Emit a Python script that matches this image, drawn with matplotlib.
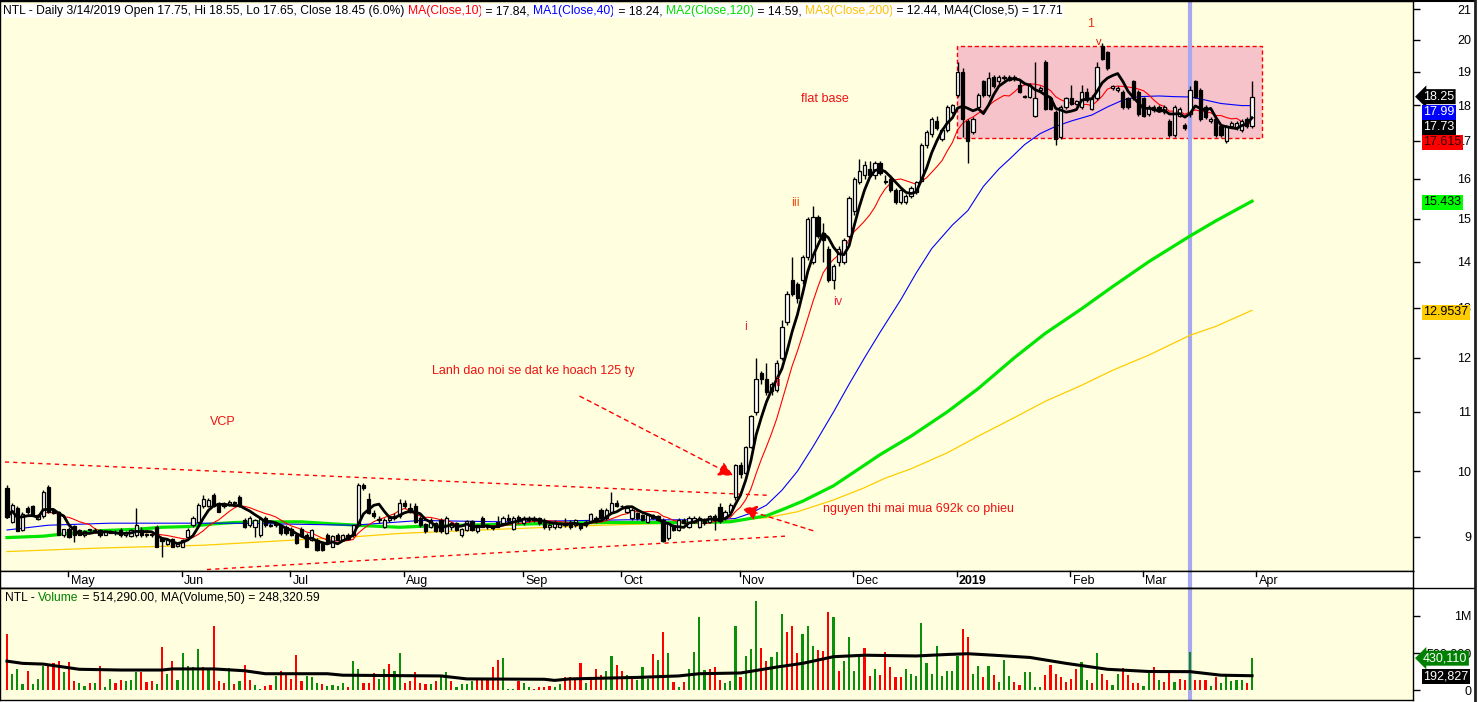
import numpy as np
import pandas as pd
import matplotlib
matplotlib.use('Agg')
import matplotlib.pyplot as plt
from matplotlib.patches import Rectangle
from matplotlib.lines import Line2D

plt.rcParams['font.family'] = ['Liberation Sans', 'DejaVu Sans']

# ---------------- data ----------------
opens = [
 9.74, 9.22, 9.42, 9.10, 9.42, 9.45, 9.26, 9.30, 9.75, 9.40,
 9.36, 9.03, 9.12, 9.16, 9.10, 9.02, 9.10, 9.10, 9.10, 9.03,
 9.08, 9.06, 9.10, 9.03, 9.01, 9.02, 9.10, 9.03, 9.04, 9.15,
 8.98, 8.90, 8.97, 8.87, 8.86, 9.00, 9.17, 9.22, 9.45, 9.45,
 9.62, 9.50, 9.45, 9.47, 9.50, 9.60, 9.24, 9.17, 9.14, 9.02,
 9.27, 9.17, 9.18, 9.17, 9.15, 9.12, 9.03, 9.12, 9.03, 8.96,
 8.96, 8.90, 9.03, 8.86, 9.03, 8.96, 9.03, 9.02, 9.17, 9.78,
 9.57, 9.35, 9.24, 9.15, 9.25, 9.28, 9.30, 9.50, 9.42, 9.45,
 9.28, 9.19, 9.15, 9.20, 9.25, 9.06, 9.14, 9.20, 9.03, 9.10,
 9.23, 9.08, 9.28, 9.15, 9.15, 9.22, 9.20, 9.28, 9.11, 9.29,
 9.21, 9.24, 9.27, 9.27, 9.25, 9.15, 9.14, 9.15, 9.20, 9.22,
 9.17, 9.17, 9.17, 9.23, 9.27, 9.40, 9.27, 9.37, 9.50, 9.45,
 9.37, 9.27, 9.35, 9.32, 9.22, 9.32, 9.30, 9.25, 8.98, 9.17,
 9.10, 9.25, 9.15, 9.22, 9.15, 9.25, 9.22, 9.30, 9.44, 9.27,
 9.37, 9.60, 10.10, 9.97, 10.40, 11.00, 11.70, 11.60, 11.37, 11.40,
 12.00, 12.70, 13.60, 13.50, 13.60, 14.10, 14.00, 15.05, 14.65, 14.30,
 13.60, 14.00, 14.00, 14.60, 15.20, 15.90, 16.10, 16.25, 16.10, 16.40,
 15.95, 16.00, 15.70, 15.40, 15.40, 15.55, 15.65, 15.95, 16.90, 17.20,
 17.55, 17.05, 17.30, 17.80, 18.30, 19.00, 17.55, 17.25, 17.95, 18.70,
 18.30, 18.85, 18.70, 18.80, 18.75, 18.80, 18.60, 18.25, 18.25, 17.70,
 18.45, 19.30, 18.20, 17.80, 17.10, 17.95, 18.20, 18.05, 17.95, 18.40,
 17.90, 18.20, 19.80, 19.60, 18.50, 18.45, 18.40, 18.20, 18.70, 18.40,
 18.20, 17.75, 17.95, 17.95, 17.80, 17.55, 17.15, 17.70, 17.45, 17.75,
 18.70, 18.45, 17.95, 17.55, 17.60, 17.40, 17.00, 17.40, 17.35, 17.30,
 17.60, 17.40]

highs = [
 9.78, 9.50, 9.45, 9.36, 9.45, 9.47, 9.34, 9.70, 9.78, 9.42,
 9.38, 9.12, 9.15, 9.18, 9.12, 9.10, 9.12, 9.13, 9.12, 9.10,
 9.10, 9.10, 9.13, 9.08, 9.11, 9.43, 9.15, 9.06, 9.06, 9.17,
 9.00, 8.97, 8.99, 8.92, 8.97, 9.13, 9.30, 9.50, 9.62, 9.58,
 9.65, 9.52, 9.52, 9.55, 9.54, 9.62, 9.27, 9.30, 9.26, 9.27,
 9.30, 9.20, 9.20, 9.19, 9.17, 9.14, 9.05, 9.14, 9.05, 9.12,
 8.98, 8.92, 9.05, 9.02, 9.05, 9.04, 9.05, 9.18, 9.82, 9.82,
 9.66, 9.40, 9.30, 9.27, 9.32, 9.35, 9.56, 9.55, 9.50, 9.50,
 9.30, 9.21, 9.27, 9.22, 9.27, 9.30, 9.22, 9.22, 9.13, 9.24,
 9.25, 9.18, 9.30, 9.18, 9.17, 9.30, 9.30, 9.33, 9.30, 9.32,
 9.30, 9.30, 9.30, 9.29, 9.27, 9.20, 9.24, 9.22, 9.28, 9.25,
 9.26, 9.20, 9.25, 9.35, 9.30, 9.42, 9.42, 9.67, 9.55, 9.48,
 9.44, 9.42, 9.37, 9.34, 9.34, 9.34, 9.32, 9.27, 9.22, 9.19,
 9.27, 9.27, 9.30, 9.30, 9.30, 9.28, 9.32, 9.33, 9.50, 9.40,
 9.50, 10.12, 10.15, 10.42, 10.95, 12.00, 11.75, 11.90, 11.55, 11.95,
 12.74, 13.35, 14.10, 13.55, 14.15, 15.05, 15.30, 15.10, 14.90, 14.35,
 13.95, 14.35, 14.55, 15.55, 16.05, 16.50, 16.45, 16.45, 16.45, 16.45,
 16.10, 16.10, 15.75, 15.75, 15.60, 15.80, 15.95, 16.95, 17.30, 17.65,
 17.70, 17.35, 18.00, 18.05, 19.30, 19.10, 17.60, 17.65, 18.35, 18.75,
 19.00, 18.90, 18.90, 18.90, 18.90, 18.90, 18.70, 18.30, 18.65, 19.30,
 18.55, 19.35, 18.25, 17.85, 18.00, 18.25, 18.60, 18.15, 18.60, 18.50,
 18.30, 19.30, 19.90, 19.65, 18.60, 18.55, 18.45, 18.25, 18.75, 18.45,
 18.25, 18.00, 18.00, 18.00, 18.00, 17.60, 18.00, 17.95, 17.50, 18.55,
 18.75, 18.50, 18.00, 17.65, 17.65, 17.45, 17.45, 17.55, 17.55, 17.60,
 17.65, 18.70]

lows = [
 9.27, 9.20, 9.08, 9.08, 9.33, 9.30, 9.24, 9.28, 9.35, 9.33,
 9.02, 9.00, 8.98, 8.93, 9.02, 9.00, 9.07, 9.06, 9.00, 9.02,
 9.05, 9.03, 9.00, 9.00, 9.00, 9.00, 9.00, 9.00, 9.00, 8.85,
 8.72, 8.88, 8.85, 8.85, 8.85, 8.98, 9.15, 9.20, 9.43, 9.44,
 9.44, 9.36, 9.42, 9.45, 9.46, 9.44, 9.13, 9.15, 9.00, 9.00,
 9.15, 9.14, 9.15, 9.03, 9.03, 9.01, 8.90, 9.00, 8.85, 8.94,
 8.80, 8.80, 8.90, 8.85, 8.95, 8.95, 8.95, 9.00, 9.15, 9.70,
 9.33, 9.28, 9.20, 9.13, 9.22, 9.25, 9.28, 9.42, 9.35, 9.20,
 9.15, 9.06, 9.13, 9.07, 9.06, 9.04, 9.10, 9.08, 9.00, 9.08,
 9.08, 9.06, 9.14, 9.12, 9.10, 9.14, 9.18, 9.22, 9.10, 9.20,
 9.18, 9.22, 9.22, 9.18, 9.12, 9.10, 9.12, 9.13, 9.15, 9.12,
 9.15, 9.10, 9.15, 9.20, 9.20, 9.26, 9.25, 9.35, 9.44, 9.42,
 9.35, 9.25, 9.25, 9.23, 9.20, 9.26, 9.23, 8.92, 8.96, 9.08,
 9.08, 9.19, 9.13, 9.20, 9.13, 9.18, 9.20, 9.10, 9.20, 9.25,
 9.35, 9.55, 9.90, 9.95, 10.38, 10.95, 11.50, 11.30, 11.30, 11.35,
 11.95, 12.65, 13.25, 13.10, 13.50, 14.05, 13.95, 14.55, 14.00, 13.55,
 13.40, 13.90, 13.95, 14.55, 15.10, 15.85, 16.00, 16.05, 16.00, 16.10,
 15.85, 15.65, 15.35, 15.35, 15.35, 15.50, 15.60, 15.90, 16.80, 17.10,
 17.30, 17.00, 17.25, 17.75, 18.25, 17.10, 16.40, 17.20, 17.90, 18.25,
 18.25, 18.50, 18.60, 18.75, 18.70, 18.70, 18.35, 18.20, 18.20, 17.65,
 18.40, 17.85, 17.85, 16.90, 17.05, 17.90, 18.00, 18.00, 17.90, 18.10,
 17.85, 18.15, 19.35, 19.05, 18.45, 18.40, 17.90, 17.90, 18.15, 17.70,
 17.65, 17.70, 17.80, 17.80, 17.75, 17.10, 17.10, 17.65, 17.30, 17.65,
 18.20, 17.55, 17.60, 17.50, 17.10, 17.10, 16.95, 17.35, 17.30, 17.25,
 17.35, 17.35]

closes = [
 9.29, 9.47, 9.09, 9.33, 9.37, 9.31, 9.32, 9.67, 9.37, 9.35,
 9.03, 9.11, 9.00, 9.03, 9.03, 9.09, 9.10, 9.08, 9.02, 9.08,
 9.06, 9.05, 9.02, 9.05, 9.10, 9.18, 9.02, 9.04, 9.03, 8.86,
 8.94, 8.96, 8.86, 8.90, 8.96, 9.10, 9.27, 9.47, 9.57, 9.55,
 9.45, 9.37, 9.48, 9.52, 9.50, 9.45, 9.15, 9.28, 9.25, 9.26,
 9.17, 9.16, 9.19, 9.06, 9.05, 9.03, 8.91, 9.01, 8.86, 9.10,
 8.81, 8.81, 8.91, 9.01, 8.96, 9.03, 8.97, 9.17, 9.78, 9.74,
 9.35, 9.30, 9.26, 9.25, 9.28, 9.30, 9.50, 9.45, 9.36, 9.22,
 9.17, 9.08, 9.25, 9.08, 9.08, 9.28, 9.21, 9.10, 9.12, 9.23,
 9.10, 9.17, 9.15, 9.16, 9.13, 9.15, 9.28, 9.25, 9.27, 9.23,
 9.27, 9.28, 9.25, 9.20, 9.14, 9.18, 9.22, 9.20, 9.18, 9.14,
 9.25, 9.13, 9.22, 9.33, 9.23, 9.27, 9.40, 9.50, 9.45, 9.46,
 9.42, 9.40, 9.27, 9.25, 9.32, 9.27, 9.25, 8.94, 9.20, 9.10,
 9.25, 9.20, 9.27, 9.27, 9.27, 9.20, 9.30, 9.25, 9.23, 9.37,
 9.47, 10.10, 9.96, 10.40, 10.93, 11.60, 11.60, 11.35, 11.50, 11.90,
 12.60, 13.30, 13.30, 13.20, 14.10, 15.00, 15.05, 14.60, 14.50, 13.60,
 13.90, 14.30, 14.50, 15.50, 16.00, 16.20, 16.35, 16.10, 16.40, 16.15,
 15.90, 15.70, 15.40, 15.70, 15.55, 15.75, 15.90, 16.90, 17.25, 17.60,
 17.35, 17.30, 17.95, 18.00, 19.00, 17.60, 17.00, 17.60, 18.30, 18.30,
 18.80, 18.55, 18.85, 18.85, 18.85, 18.80, 18.40, 18.28, 18.60, 18.20,
 18.50, 17.90, 17.90, 17.05, 17.95, 18.20, 18.05, 18.12, 18.40, 18.15,
 18.20, 19.15, 19.40, 19.10, 18.55, 18.50, 17.95, 17.95, 18.20, 17.75,
 17.70, 17.95, 17.85, 17.85, 17.95, 17.15, 17.95, 17.90, 17.35, 18.45,
 18.25, 17.60, 17.65, 17.60, 17.15, 17.15, 17.40, 17.50, 17.50, 17.55,
 17.40, 18.25]

# volume in millions of shares, and bar colour flags (g = up, r = down)
volumes = [
 0.76, 0.22, 0.28, 0.08, 0.26, 0.08, 0.15, 0.32, 0.35, 0.36,
 0.39, 0.25, 0.38, 0.12, 0.10, 0.06, 0.10, 0.09, 0.32, 0.04,
 0.15, 0.10, 0.13, 0.12, 0.13, 0.24, 0.24, 0.11, 0.12, 0.08,
 0.58, 0.22, 0.39, 0.14, 0.50, 0.33, 0.31, 0.55, 0.31, 0.28,
 0.87, 0.12, 0.09, 0.30, 0.08, 0.12, 0.34, 0.13, 0.07, 0.01,
 0.06, 0.07, 0.19, 0.26, 0.23, 0.15, 0.47, 0.12, 0.19, 0.18,
 0.09, 0.08, 0.06, 0.07, 0.06, 0.09, 0.04, 0.39, 0.28, 0.09,
 0.10, 0.23, 0.15, 0.28, 0.35, 0.26, 0.50, 0.10, 0.12, 0.25,
 0.09, 0.08, 0.08, 0.12, 0.18, 0.24, 0.12, 0.04, 0.08, 0.08,
 0.12, 0.15, 0.15, 0.15, 0.31, 0.41, 0.43, 0.02, 0.02, 0.12,
 0.09, 0.04, 0.02, 0.04, 0.04, 0.06, 0.04, 0.08, 0.18, 0.17,
 0.15, 0.36, 0.09, 0.18, 0.29, 0.20, 0.26, 0.46, 0.34, 0.26,
 0.20, 0.15, 0.13,
 0.31, 0.15, 0.49, 0.41, 0.79, 0.50, 0.11, 0.04, 0.11, 0.29,
 0.52, 0.98, 0.27, 0.28, 0.31, 0.13, 0.09, 0.12, 0.86, 0.18,
 0.46, 0.56, 1.20, 0.57, 0.39, 0.44, 0.52, 1.03, 0.78, 0.86,
 0.50, 0.75, 0.87, 0.59, 0.54, 0.53, 1.05, 0.99, 0.26, 0.39,
 0.72, 0.26, 0.47, 0.57, 0.19, 0.28, 0.20, 0.52, 0.31, 0.18,
 0.18, 0.29, 0.22, 0.19, 0.91, 0.37, 0.22, 0.59, 0.19, 0.26,
 0.26, 0.46, 0.83, 0.72, 0.22, 0.33, 0.18, 0.33, 0.20, 0.11,
 0.41, 0.19, 0.11, 0.07, 0.25, 0.25, 0.04, 0.04, 0.20, 0.34,
 0.22, 0.18, 0.11, 0.15, 0.29, 0.38, 0.13, 0.09, 0.50, 0.21,
 0.13, 0.07, 0.21, 0.30, 0.20, 0.10, 0.09, 0.06, 0.25, 0.31,
 0.14, 0.11, 0.26, 0.11, 0.15, 0.14, 0.514, 0.13, 0.13, 0.14,
 0.06, 0.18, 0.10, 0.19, 0.12, 0.14, 0.13, 0.09, 0.43]

vol_dir = ("rgggrgggrr" "rgrrggrgrg" "grrgggrrrg" "rgrgggggrg" "rrrgrgrrgg"
           "rrgrrrrrgg" "grggggrggr" "rrggrggrrr" "rrgrggrggg" "grrrrrgggr"
           "ggrrrrggrr" "rrgrrrggrr" "grg"
           "ggrgrgrgrg" "gggrrrgggr" "gggrrgggrr" "rgggrrrgrg" "gggrrgrrrr"
           "rggggggggg" "ggrrggrgrg" "ggrrggggrr" "rrrrrggrgr" "rggrrrrggr"
           "grrgrrgrrr" "grgggggrg")

# moving averages (bar index, value)
ma40_idx = [0, 8, 20, 44, 67, 80, 96, 120, 137, 141, 144, 147, 150, 153, 156, 160,
            163, 166, 169, 173, 176, 179, 183, 186, 189, 192, 194, 197, 200, 203,
            206, 210, 213, 216, 219, 223, 226, 229, 232, 235, 239, 241]
ma40_val = [9.10, 9.17, 9.20, 9.20, 9.17, 9.24, 9.22, 9.25, 9.25, 9.27, 9.35, 9.47,
            9.70, 10.0, 10.4, 11.0, 11.5, 12.0, 12.5, 13.17, 13.75, 14.3, 14.85, 15.2,
            15.8, 16.25, 16.5, 16.9, 17.2, 17.4, 17.55, 17.72, 17.95, 18.15, 18.25,
            18.27, 18.25, 18.24, 18.15, 18.05, 17.99, 17.99]
ma120_idx = [0, 7, 12, 18, 25, 30, 35, 40, 44, 50, 57, 63, 70, 76, 82, 95, 115, 134,
             140, 147, 150, 154, 160, 166, 169, 175, 182, 188, 195, 201, 208, 214,
             221, 229, 234, 241]
ma120_val = [8.99, 9.01, 9.05, 9.09, 9.11, 9.14, 9.15, 9.19, 9.21, 9.22, 9.22, 9.19,
             9.16, 9.14, 9.16, 9.18, 9.21, 9.21, 9.22, 9.31, 9.40, 9.53, 9.77, 10.1,
             10.27, 10.58, 11.0, 11.42, 12.0, 12.48, 12.98, 13.45, 14.0, 14.59,
             14.95, 15.43]
ma200_idx = [0, 18, 38, 57, 67, 76, 95, 115, 134, 147, 153, 160, 166, 170, 175, 182,
             188, 195, 201, 208, 214, 221, 229, 234, 241]
ma200_val = [8.79, 8.84, 8.88, 8.96, 9.0, 9.05, 9.11, 9.17, 9.21, 9.28, 9.37, 9.55,
             9.74, 9.89, 10.04, 10.3, 10.58, 10.9, 11.19, 11.48, 11.76, 12.05, 12.44,
             12.62, 12.95]
vma_idx = [0, 3, 7, 10, 14, 22, 30, 32, 40, 46, 50, 62, 65, 84, 89, 104, 106, 109,
           122, 130, 134, 142, 149, 154, 160, 166, 176, 182, 186, 191, 198, 205, 213,
           221, 229, 235, 241]
vma_val = [0.39, 0.36, 0.35, 0.32, 0.28, 0.27, 0.27, 0.285, 0.285, 0.26, 0.22, 0.22,
           0.20, 0.19, 0.15, 0.145, 0.13, 0.15, 0.17, 0.19, 0.22, 0.23, 0.31, 0.36,
           0.45, 0.47, 0.46, 0.48, 0.49, 0.47, 0.44, 0.36, 0.28, 0.25, 0.248, 0.20,
           0.193]

month_labels = ["May", "Jun", "Jul", "Aug", "Sep", "Oct", "Nov", "Dec", "2019", "Feb", "Mar", "Apr"]
month_first_bar = [12, 34, 55, 77, 100, 119, 142, 164, 184, 206, 220, 242]
cursor_bar = 229          # 3/14/2019
price_ticks = [9, 10, 11, 12, 13, 14, 15, 16, 17, 18, 19, 20, 21]

# ---------------- figure ----------------
W, H = 1478, 702
fig = plt.figure(figsize=(W / 100, H / 100), dpi=100)
fig.patch.set_facecolor('white')

def frame(x0, y0, x1, y1):
    return [x0 / W, 1 - y1 / H, (x1 - x0) / W, (y1 - y0) / H]

BG = '#ffffe0'
ax = fig.add_axes(frame(0, 1, 1413, 571))
axd = fig.add_axes(frame(0, 571, 1413, 588))
axv = fig.add_axes(frame(0, 588, 1413, 700))

O = np.array(opens); Hh = np.array(highs); L = np.array(lows); C = np.array(closes)
n = len(C)
x = np.arange(n)
xlim = (-1.355, 272.16)

for a in (ax, axd, axv):
    a.set_xlim(*xlim)
    for s in a.spines.values():
        s.set_color('black'); s.set_linewidth(1)

ax.set_facecolor(BG)
axv.set_facecolor(BG)
axd.set_facecolor('white')

# ---- price panel ----
ax.set_yscale('log')
ax.set_ylim(8.52, 21.28)

# flat base box
ax.add_patch(Rectangle((183.9, 17.07), 243.0 - 183.9, 19.8 - 17.07, facecolor='#f6c3ca',
                       edgecolor='red', linestyle=(0, (3, 2)), linewidth=1, zorder=1))

ax.axvline(cursor_bar, color='#a8a8f0', lw=3, zorder=1.5)

ax.plot(ma200_idx, ma200_val, color='#ffcc00', lw=0.9, zorder=2)
ax.plot(ma120_idx, ma120_val, color='#00e600', lw=2.3, zorder=2)
ax.plot(ma40_idx, ma40_val, color='#0000ff', lw=0.8, zorder=2)
ma10 = pd.Series(C).rolling(10, min_periods=1).mean()
ma5 = pd.Series(C).rolling(5, min_periods=1).mean()
ax.plot(x, ma10, color='red', lw=0.8, zorder=2.2)

# candles
ax.vlines(x, L, Hh, color='black', lw=1, zorder=3)
up = C >= O
bot = np.minimum(O, C)
top = np.maximum(O, C)
hgt = np.maximum(top - bot, bot * 0.0015)
ax.bar(x[up], hgt[up], bottom=bot[up], width=0.62, facecolor='white', edgecolor='black',
       linewidth=0.9, zorder=4)
ax.bar(x[~up], hgt[~up], bottom=bot[~up], width=0.62, facecolor='black', edgecolor='black',
       linewidth=0.9, zorder=4)
ax.plot(x, ma5, color='black', lw=2.0, zorder=5)

# trend lines & arrows
ax.plot([-0.4, 147.7], [10.15, 9.62], color='red', lw=1, dashes=(3, 3), zorder=2.5)
ax.plot([38.7, 150.6], [8.54, 9.01], color='red', lw=1, dashes=(3, 3), zorder=2.5)
ax.annotate('', xy=(140.6, 9.93), xytext=(110.9, 11.28),
            arrowprops=dict(arrowstyle='-|>,head_length=0.9,head_width=0.45', color='red',
                            lw=1, linestyle=(0, (3, 3)), shrinkA=0, shrinkB=0), zorder=6)
ax.annotate('', xy=(142.3, 9.42), xytext=(156.0, 9.09),
            arrowprops=dict(arrowstyle='-|>,head_length=0.9,head_width=0.45', color='red',
                            lw=1, linestyle=(0, (3, 3)), shrinkA=0, shrinkB=0), zorder=6)

RED = '#ee1111'
tkw = dict(fontsize=9, zorder=7)
ax.text(158.3, 18.18, 'flat base', color=RED, ha='center', va='center', **tkw)
ax.text(152.7, 15.38, 'iii', color='#ee5511', ha='center', va='center', **tkw)
ax.text(160.7, 13.12, 'iv', color='#ee2244', ha='center', va='center', **tkw)
ax.text(143.0, 12.6, 'i', color='#ee2244', ha='center', va='center', **tkw)
ax.text(149.2, 11.52, 'ii', color='#ee2244', ha='center', va='center', **tkw)
ax.text(101.8, 11.75, 'Lanh dao noi se dat ke hoach 125 ty', color=RED, ha='center', va='center', **tkw)
ax.text(41.8, 10.82, 'VCP', color=RED, ha='center', va='center', **tkw)
ax.text(158.0, 9.41, 'nguyen thi mai mua 692k co phieu', color=RED, ha='left', va='center', **tkw)
ax.text(209.8, 20.5, '1', color='#dd3311', ha='center', va='center', **tkw)
ax.text(211.4, 19.92, 'v', color=RED, ha='center', va='center', fontsize=8, zorder=7)

# axis ticks on the right
ax.set_xticks([])
ax.yaxis.tick_right()
ax.set_yticks(price_ticks)
ax.set_yticklabels([str(t) for t in price_ticks])
ax.yaxis.set_minor_locator(matplotlib.ticker.NullLocator())
ax.tick_params(axis='y', which='major', length=5, width=1, pad=37, labelsize=9, direction='out')
for lab in ax.get_yticklabels():
    lab.set_horizontalalignment('right')

# header
HF = 8.75
parts = [("NTL - Daily 3/14/2019 Open 17.75, Hi 18.55, Lo 17.65, Close 18.45 (6.0%) ", 'black'),
         ("MA(Close,10)", 'red'), (" = 17.84, ", 'black'),
         ("MA1(Close,40)", 'blue'), (" = 18.24, ", 'black'),
         ("MA2(Close,120)", '#00dd00'), (" = 14.59, ", 'black'),
         ("MA3(Close,200)", '#ffc000'), (" = 12.44, MA4(Close,5) = 17.71", 'black')]
t = ax.text(3 / 1413, 1 - 10 / 570, parts[0][0], transform=ax.transAxes, color=parts[0][1],
            ha='left', va='center', fontsize=HF, zorder=8,
            bbox=dict(facecolor='white', edgecolor='none', pad=1))
for s, c in parts[1:]:
    t = ax.annotate(s, xy=(1, 0), xycoords=t, ha='left', va='bottom', color=c, fontsize=HF,
                    zorder=8, bbox=dict(facecolor='white', edgecolor='none', pad=1))

# value tags
def tag(axis, val, s, fc, tc, dy=0, arrow=False):
    axis.annotate(s, xy=(1, val), xycoords=('axes fraction', 'data'), xytext=(10, dy),
                  textcoords='offset pixels', ha='left', va='center', fontsize=9, color=tc,
                  annotation_clip=False, zorder=10,
                  bbox=dict(boxstyle=('larrow,pad=0.12' if arrow else 'square,pad=0.12'),
                            facecolor=fc, edgecolor='none'))

tag(ax, closes[-1], f"{closes[-1]:.2f}", 'black', 'white', 0, True)
tag(ax, ma40_val[-1], f"{ma40_val[-1]:.2f}", '#0000ff', 'white', -6.5)
tag(ax, 17.73, "17.73", 'black', 'white', -12.4)
tag(ax, 17.615, "17.615", '#ff0000', '#300000', -23.4)
tag(ax, ma120_val[-1], "15.433", '#00ff00', 'black', -1)
tag(ax, ma200_val[-1], "12.9537", '#ffcc00', 'black', -2)

# ---- date strip ----
axd.set_ylim(0, 1)
axd.set_xticks([]); axd.set_yticks([])
axd.axvline(cursor_bar, color='#a8a8f0', lw=3, zorder=1)
for pos, lab in zip(month_first_bar, month_labels):
    p = pos - 0.2
    axd.plot([p, p], [0.68, 1.0], color='black', lw=1, clip_on=False)
    axd.text(p + 0.5, 0.42, lab, ha='left', va='center', fontsize=9,
             fontweight=('bold' if lab == '2019' else 'normal'))

# ---- volume panel ----
V = np.array(volumes)
vcol = ['#0a8f0a' if ch == 'g' else '#ff0000' for ch in vol_dir]
axv.set_ylim(-0.135, 1.378)
axv.axvline(cursor_bar, color='#a8a8f0', lw=3, zorder=1)
axv.bar(x, V, width=0.42, color=vcol, zorder=2)
axv.plot(vma_idx, vma_val, color='black', lw=2.2, zorder=3)
axv.set_xticks([])
axv.yaxis.tick_right()
axv.set_yticks([0, 0.5, 1.0])
axv.set_yticklabels(['0', '500,000', '1M'])
axv.tick_params(axis='y', length=5, width=1, pad=37, labelsize=9)
for lab in axv.get_yticklabels():
    lab.set_horizontalalignment('right')

vt = axv.text(5 / 1413, 1 - 10 / 112, "NTL - ", transform=axv.transAxes, ha='left',
              va='center', fontsize=HF, color='black')
vt = axv.annotate("Volume", xy=(1, 0), xycoords=vt, ha='left', va='bottom', fontsize=HF,
                  color='#008000')
vt = axv.annotate(" = 514,290.00, MA(Volume,50) = 248,320.59", xy=(1, 0), xycoords=vt,
                  ha='left', va='bottom', fontsize=HF, color='black')

tag(axv, volumes[-1], "430,110", '#008000', 'white', 0, True)
tag(axv, vma_val[-1], "192,827", 'black', 'white', -1)

# outer frame lines
fig.add_artist(Line2D([0, 1475 / W], [1 - 1 / H, 1 - 1 / H], color='black', lw=1.5))
fig.add_artist(Line2D([0, 1475 / W], [1 - 588 / H, 1 - 588 / H], color='black', lw=1))
fig.add_artist(Line2D([1475 / W, 1475 / W], [0, 1], color='#202020', lw=2))

fig.savefig('out.png', dpi=100, facecolor='white')
